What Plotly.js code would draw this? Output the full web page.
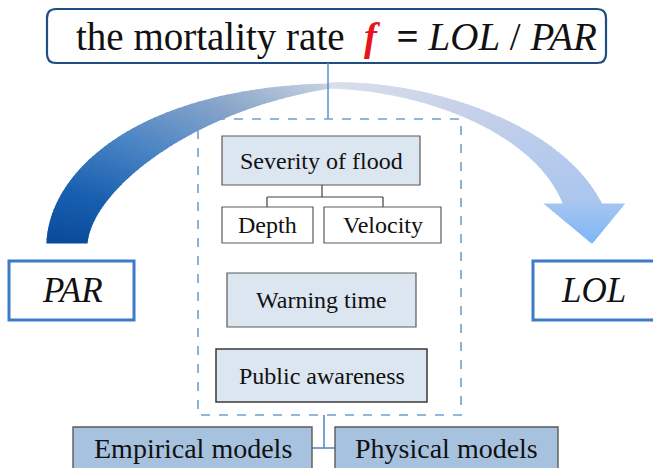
<!DOCTYPE html>
<html><head><meta charset="utf-8">
<script src="https://cdn.plot.ly/plotly-3.0.1.min.js"></script>
<style>html,body{margin:0;padding:0;background:#fff}#chart{width:653px;height:468px}</style>
</head><body><div id="chart"></div>
<script>
// ---- text content ----
const titleLead = "the mortality rate";
const titleVar = "f";
const titleNum = "LOL";
const titleDen = "PAR";
const factorLabels = ["Severity of flood", "Depth", "Velocity", "Warning time", "Public awareness"];
const modelLabels = ["Empirical models", "Physical models"];
const endLabels = ["PAR", "LOL"];

// ---- helpers ----
function cubic(P, t) {
  const a = (1 - t) ** 3, b = 3 * (1 - t) ** 2 * t, c = 3 * (1 - t) * t * t, d = t ** 3;
  return [a * P[0][0] + b * P[1][0] + c * P[2][0] + d * P[3][0],
          a * P[0][1] + b * P[1][1] + c * P[2][1] + d * P[3][1]];
}
function hex2rgb(h) { return [1, 3, 5].map(i => parseInt(h.substr(i, 2), 16)); }
function gradColor(stops, t) {
  for (let i = 0; i < stops.length - 1; i++) {
    const [t0, c0] = stops[i], [t1, c1] = stops[i + 1];
    if (t >= t0 && t <= t1) {
      const f = (t - t0) / (t1 - t0), a = hex2rgb(c0), b = hex2rgb(c1);
      return 'rgb(' + a.map((v, k) => Math.round(v + (b[k] - v) * f)).join(',') + ')';
    }
  }
  return stops[stops.length - 1][1];
}
function poly(pts, color) {
  return { type: 'path', xref: 'x', yref: 'y', layer: 'above',
    path: 'M' + pts.map(p => p[0].toFixed(2) + ',' + p[1].toFixed(2)).join(' L') + ' Z',
    fillcolor: color, line: { color: color, width: 1.2 } };
}
function band(outer, inner, stops, n) {
  const out = [];
  for (let i = 0; i < n; i++) {
    const t0 = i / n, t1 = (i + 1) / n;
    out.push(poly([cubic(outer, t0), cubic(outer, t1), cubic(inner, t1), cubic(inner, t0)],
      gradColor(stops, (t0 + t1) / 2)));
  }
  return out;
}
function rect(x0, y0, x1, y1, fill, lineColor, lw, dash) {
  return { type: 'rect', xref: 'x', yref: 'y', x0, y0, x1, y1, fillcolor: fill,
    line: { color: lineColor, width: lw, dash: dash || 'solid' }, layer: 'above' };
}
function seg(x0, y0, x1, y1, color, w) {
  return { type: 'line', xref: 'x', yref: 'y', x0, y0, x1, y1, line: { color, width: w }, layer: 'above' };
}
function roundRect(x0, y0, x1, y1, r) {
  return `M${x0 + r},${y0} L${x1 - r},${y0} Q${x1},${y0} ${x1},${y0 + r} L${x1},${y1 - r} Q${x1},${y1} ${x1 - r},${y1} ` +
         `L${x0 + r},${y1} Q${x0},${y1} ${x0},${y1 - r} L${x0},${y0 + r} Q${x0},${y0} ${x0 + r},${y0} Z`;
}

// ---- shapes ----
const shapes = [];
// left rising arc (dark blue -> pale)
const leftOuter = [[47, 243], [50, 170], [140, 88], [330, 84]];
const leftInner = [[87, 243], [92, 190], [190, 110], [330, 88]];
shapes.push(...band(leftOuter, leftInner,
  [[0, '#0a4a9b'], [0.25, '#1a60b0'], [0.5, '#4a84c4'], [0.75, '#86a3c9'], [1, '#c6d0e0']], 60));
// right descending arc (pale -> light blue)
const rightOuter = [[330, 83], [420, 80], [560, 120], [602, 205]];
const rightInner = [[330, 88], [420, 90], [535, 130], [564, 205]];
shapes.push(...band(rightOuter, rightInner,
  [[0, '#dadfea'], [0.5, '#c6d0ea'], [1, '#aac6ee']], 60));
// arrow head
const headL = [545, 204], headR = [624, 204], tip = [592, 243];
const nh = 16;
for (let i = 0; i < nh; i++) {
  const s0 = i / nh, s1 = (i + 1) / nh;
  const L = s => [headL[0] + (tip[0] - headL[0]) * s, headL[1] + (tip[1] - headL[1]) * s];
  const R = s => [headR[0] + (tip[0] - headR[0]) * s, headR[1] + (tip[1] - headR[1]) * s];
  shapes.push(poly([L(s0), R(s0), R(s1), L(s1)], gradColor([[0, '#a6c5f0'], [1, '#7db5f6']], (s0 + s1) / 2)));
}

// title box
shapes.push({ type: 'path', xref: 'x', yref: 'y', path: roundRect(47, 9, 606, 63, 9),
  fillcolor: '#ffffff', line: { color: '#1f4e85', width: 2.2 }, layer: 'above' });
// connector title -> dashed group
shapes.push(seg(328, 63, 328, 119, '#5b8fcf', 1.5));
// dashed group
shapes.push(rect(198, 119, 461, 415, 'rgba(0,0,0,0)', '#6f9fd3', 1.6, 'dash'));
// severity
shapes.push(rect(222, 136, 420, 185, '#dce6f1', '#5a5a5a', 1.2));
shapes.push(seg(322, 185, 322, 197, '#404040', 1.2));
shapes.push(seg(267, 197, 383, 197, '#404040', 1.2));
shapes.push(seg(267, 197, 267, 207, '#404040', 1.2));
shapes.push(seg(383, 197, 383, 207, '#404040', 1.2));
shapes.push(rect(222, 207, 313, 243, '#ffffff', '#5a5a5a', 1.2));
shapes.push(rect(324, 207, 441, 243, '#ffffff', '#5a5a5a', 1.2));
// warning & awareness
shapes.push(rect(227, 273, 416, 327, '#dce6f1', '#5a5a5a', 1.2));
shapes.push(rect(216, 349, 427, 402, '#dce6f1', '#3a3a3a', 1.5));
// bottom connector & model boxes
shapes.push(seg(324, 415, 324, 448, '#4f86c6', 1.5));
shapes.push(seg(312, 448, 335, 448, '#4f86c6', 1.5));
shapes.push(rect(73, 427, 312, 480, '#a7c2df', '#5a5a5a', 1.4));
shapes.push(rect(335, 427, 558, 480, '#a7c2df', '#5a5a5a', 1.4));
// PAR and LOL boxes
shapes.push(rect(9, 261, 134, 320, '#ffffff', '#3b7bc8', 3));
shapes.push(rect(533, 261, 660, 320, '#ffffff', '#3b7bc8', 3));

// ---- annotations ----
const serif = 'Liberation Serif';
function label(x, y, text, size, extra) {
  return Object.assign({ x, y, xref: 'x', yref: 'y', text, showarrow: false,
    xanchor: 'center', yanchor: 'middle', font: { family: serif, size, color: '#111111' } }, extra || {});
}
const annotations = [
  label(336, 37, titleLead + '&nbsp; <b><i><span style="color:#e8141b">' + titleVar + '</span></i></b>&nbsp; <b>=</b> <i>' +
        titleNum + '</i> / <i>' + titleDen + '</i>', 39),
  label(321, 161, factorLabels[0], 24),
  label(267.5, 225, factorLabels[1], 24),
  label(382.5, 225, factorLabels[2], 24),
  label(321.5, 300, factorLabels[3], 24),
  label(321.5, 375.5, factorLabels[4], 24),
  label(192.5, 448, modelLabels[0], 28),
  label(446.5, 448, modelLabels[1], 28),
  label(72, 290.5, '<i>' + endLabels[0] + '</i>', 35),
  label(593, 290.5, '<i>' + endLabels[1] + '</i>', 35)
];

const layout = {
  width: 653, height: 468, margin: { l: 0, r: 0, t: 0, b: 0 },
  paper_bgcolor: '#ffffff', plot_bgcolor: '#ffffff', showlegend: false,
  xaxis: { range: [0, 653], visible: false, fixedrange: true },
  yaxis: { range: [468, 0], visible: false, fixedrange: true },
  shapes, annotations
};
Plotly.newPlot('chart', [{ x: [], y: [], type: 'scatter', mode: 'markers', hoverinfo: 'skip' }], layout,
  { staticPlot: true, displayModeBar: false });
</script></body></html>
